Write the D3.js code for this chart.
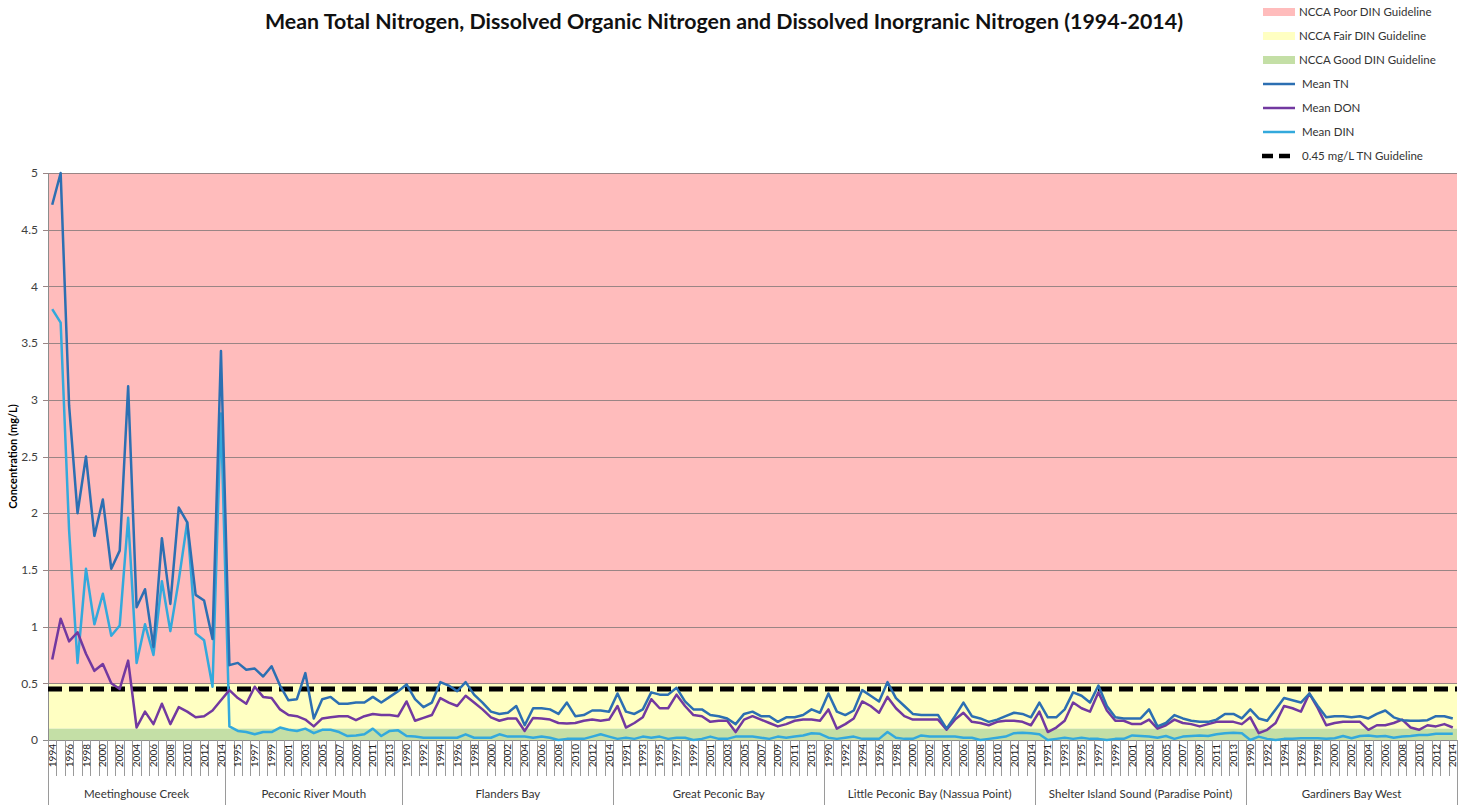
<!DOCTYPE html>
<html>
<head>
<meta charset="utf-8">
<script src="https://cdn.jsdelivr.net/npm/d3@7"></script>
<style>
  body { margin: 0; background: #fff; }
  text { font-family: Lato, "Liberation Sans", sans-serif; }
</style>
</head>
<body>
<div id="chart"></div>
<script>
// sites along the x axis and the years sampled at each one
var siteNames = ["Meetinghouse Creek", "Peconic River Mouth", "Flanders Bay", "Great Peconic Bay",
                 "Little Peconic Bay (Nassua Point)", "Shelter Island Sound (Paradise Point)", "Gardiners Bay West"];
var siteFirstYear = [1994, 1994, 1990, 1990, 1990, 1990, 1990];
var siteLastYear  = [2014, 2014, 2014, 2014, 2014, 2014, 2014];

var yTicks = [0, 0.5, 1, 1.5, 2, 2.5, 3, 3.5, 4, 4.5, 5];

// Mean TN (mg/L), one row per site
var tn = [
  4.72, 5.00, 2.95, 2.00, 2.50, 1.80, 2.12, 1.51, 1.67, 3.12, 1.17, 1.33, 0.82, 1.78, 1.20, 2.05, 1.92, 1.28, 1.23, 0.89, 3.43,
  0.66, 0.68, 0.62, 0.63, 0.56, 0.65, 0.48, 0.35, 0.36, 0.59, 0.19, 0.36, 0.38, 0.32, 0.32, 0.33, 0.33, 0.38, 0.33, 0.38, 0.43,
  0.49, 0.36, 0.29, 0.33, 0.51, 0.48, 0.43, 0.51, 0.40, 0.33, 0.25, 0.23, 0.24, 0.30, 0.13, 0.28, 0.28, 0.27, 0.23, 0.33, 0.21, 0.22, 0.26, 0.26, 0.25,
  0.41, 0.25, 0.23, 0.27, 0.42, 0.40, 0.40, 0.46, 0.34, 0.27, 0.27, 0.22, 0.21, 0.19, 0.14, 0.23, 0.25, 0.21, 0.21, 0.16, 0.20, 0.20, 0.22, 0.27, 0.24,
  0.41, 0.25, 0.22, 0.26, 0.44, 0.39, 0.34, 0.51, 0.37, 0.30, 0.23, 0.22, 0.22, 0.22, 0.10, 0.21, 0.33, 0.21, 0.19, 0.16, 0.18, 0.21, 0.24, 0.23, 0.20,
  0.33, 0.20, 0.20, 0.27, 0.42, 0.39, 0.33, 0.48, 0.30, 0.20, 0.19, 0.19, 0.19, 0.27, 0.12, 0.15, 0.22, 0.19, 0.17, 0.16, 0.16, 0.18, 0.23, 0.23, 0.19,
  0.27, 0.19, 0.17, 0.27, 0.37, 0.35, 0.33, 0.41, 0.30, 0.20, 0.21, 0.21, 0.20, 0.21, 0.19, 0.23, 0.26, 0.20, 0.175, 0.17, 0.17, 0.175, 0.21, 0.21, 0.19
];

// Mean DON (mg/L)
var don = [
  0.71, 1.07, 0.87, 0.95, 0.76, 0.61, 0.67, 0.50, 0.45, 0.70, 0.11, 0.25, 0.14, 0.32, 0.14, 0.29, 0.25, 0.20, 0.21, 0.26, 0.35,
  0.44, 0.37, 0.32, 0.47, 0.38, 0.37, 0.27, 0.22, 0.21, 0.18, 0.12, 0.19, 0.20, 0.21, 0.21, 0.175, 0.21, 0.23, 0.22, 0.22, 0.21,
  0.34, 0.17, 0.195, 0.22, 0.37, 0.33, 0.30, 0.39, 0.33, 0.27, 0.20, 0.17, 0.19, 0.19, 0.08, 0.195, 0.19, 0.18, 0.15, 0.145, 0.15, 0.17, 0.18, 0.17, 0.18,
  0.30, 0.11, 0.15, 0.20, 0.36, 0.28, 0.28, 0.40, 0.30, 0.22, 0.21, 0.16, 0.17, 0.17, 0.07, 0.18, 0.21, 0.18, 0.15, 0.12, 0.14, 0.17, 0.18, 0.18, 0.17,
  0.27, 0.10, 0.14, 0.19, 0.34, 0.30, 0.24, 0.38, 0.28, 0.21, 0.18, 0.18, 0.18, 0.18, 0.09, 0.18, 0.24, 0.16, 0.15, 0.13, 0.16, 0.17, 0.17, 0.16, 0.13,
  0.25, 0.07, 0.11, 0.17, 0.33, 0.28, 0.25, 0.42, 0.26, 0.17, 0.17, 0.14, 0.14, 0.18, 0.10, 0.13, 0.18, 0.15, 0.14, 0.12, 0.14, 0.16, 0.16, 0.16, 0.14,
  0.20, 0.06, 0.09, 0.15, 0.30, 0.28, 0.25, 0.41, 0.28, 0.13, 0.15, 0.16, 0.16, 0.16, 0.09, 0.13, 0.13, 0.15, 0.18, 0.11, 0.09, 0.13, 0.12, 0.14, 0.11
];

// Mean DIN (mg/L)
var din = [
  3.80, 3.68, 1.85, 0.68, 1.51, 1.02, 1.29, 0.92, 1.01, 1.96, 0.68, 1.02, 0.75, 1.40, 0.96, 1.41, 1.92, 0.94, 0.88, 0.47, 2.88,
  0.12, 0.08, 0.07, 0.05, 0.07, 0.07, 0.11, 0.09, 0.08, 0.10, 0.06, 0.09, 0.09, 0.07, 0.035, 0.04, 0.05, 0.10, 0.035, 0.08, 0.085,
  0.035, 0.03, 0.02, 0.02, 0.02, 0.02, 0.02, 0.05, 0.02, 0.02, 0.02, 0.05, 0.03, 0.03, 0.03, 0.02, 0.03, 0.02, 0.00, 0.01, 0.01, 0.01, 0.03, 0.05, 0.03,
  0.01, 0.02, 0.01, 0.03, 0.02, 0.03, 0.01, 0.02, 0.02, 0.00, 0.01, 0.03, 0.01, 0.01, 0.03, 0.03, 0.03, 0.02, 0.01, 0.03, 0.02, 0.03, 0.04, 0.06, 0.055,
  0.02, 0.01, 0.02, 0.03, 0.01, 0.01, 0.01, 0.07, 0.02, 0.01, 0.01, 0.04, 0.03, 0.03, 0.03, 0.03, 0.02, 0.02, 0.00, 0.01, 0.02, 0.03, 0.06, 0.065, 0.06,
  0.05, 0.00, 0.01, 0.02, 0.01, 0.02, 0.01, 0.01, 0.00, 0.01, 0.01, 0.04, 0.035, 0.03, 0.02, 0.035, 0.01, 0.03, 0.035, 0.04, 0.035, 0.05, 0.06, 0.065, 0.06,
  0.00, 0.03, 0.01, 0.00, 0.01, 0.01, 0.015, 0.015, 0.015, 0.01, 0.015, 0.035, 0.015, 0.035, 0.04, 0.03, 0.035, 0.02, 0.03, 0.035, 0.045, 0.045, 0.055, 0.055, 0.055
];

// NCCA DIN guideline bands and the TN guideline
var goodLimit = 0.1, fairLimit = 0.5, poorLimit = 5;
var tnGuideline = 0.45;

var colors = {poor: "#ffbcbc", fair: "#ffffc2", good: "#c4dfa6",
              tn: "#2c6fb2", don: "#7239a0", din: "#33a9dc"};

// build the flat category list (site, year)
var categories = [];
siteNames.forEach(function(s, k) {
  for (var yr = siteFirstYear[k]; yr <= siteLastYear[k]; yr++) categories.push({site: s, year: yr});
});

var W = 1465, H = 807;
var plotLeft = 48, plotRight = 1457, plotTop = 173, plotBottom = 740;

var svg = d3.select("#chart").append("svg")
  .attr("width", W).attr("height", H);

var x = d3.scaleBand()
  .domain(d3.range(categories.length))
  .range([plotLeft, plotRight])
  .padding(0);
var y = d3.scaleLinear().domain([0, 5]).range([plotBottom, plotTop]);
var cx = function(i) { return x(i) + x.bandwidth() / 2; };

// guideline bands
svg.append("rect").attr("x", plotLeft).attr("width", plotRight - plotLeft)
  .attr("y", y(poorLimit)).attr("height", y(fairLimit) - y(poorLimit)).attr("fill", colors.poor);
svg.append("rect").attr("x", plotLeft).attr("width", plotRight - plotLeft)
  .attr("y", y(fairLimit)).attr("height", y(goodLimit) - y(fairLimit)).attr("fill", colors.fair);
svg.append("rect").attr("x", plotLeft).attr("width", plotRight - plotLeft)
  .attr("y", y(goodLimit)).attr("height", y(0) - y(goodLimit)).attr("fill", colors.good);

// gridlines + y axis
svg.append("g").selectAll("line").data(yTicks.filter(function(d) { return d > 0; }))
  .enter().append("line")
  .attr("x1", plotLeft - 5).attr("x2", plotRight)
  .attr("y1", function(d) { return Math.round(y(d)) + 0.5; })
  .attr("y2", function(d) { return Math.round(y(d)) + 0.5; })
  .attr("stroke", "#9a8585").attr("stroke-width", 1);
svg.append("line").attr("x1", plotLeft - 5).attr("x2", plotRight)
  .attr("y1", y(0) + 0.5).attr("y2", y(0) + 0.5).attr("stroke", "#8c8c8c");
svg.append("line").attr("x1", plotLeft + 0.5).attr("x2", plotLeft + 0.5)
  .attr("y1", y(5)).attr("y2", y(0)).attr("stroke", "#8c8c8c");

svg.append("g").selectAll("text").data(yTicks).enter().append("text")
  .attr("x", 38).attr("y", function(d) { return y(d); }).attr("dy", "0.35em")
  .attr("text-anchor", "end").attr("font-size", 12).attr("fill", "#404040")
  .text(function(d) { return d; });

svg.append("text")
  .attr("transform", "translate(17," + ((plotTop + plotBottom) / 2) + ") rotate(-90)")
  .attr("text-anchor", "middle").attr("font-size", 11).attr("font-weight", "bold")
  .text("Concentration  (mg/L)");

// x axis: ticks between every category, longer lines between sites
var siteStart = [];
categories.forEach(function(c, i) { if (i === 0 || categories[i - 1].site !== c.site) siteStart.push(i); });

svg.append("g").selectAll("line").data(d3.range(categories.length + 1))
  .enter().append("line")
  .attr("x1", function(i) { return Math.round(plotLeft + i * x.bandwidth()) + 0.5; })
  .attr("x2", function(i) { return Math.round(plotLeft + i * x.bandwidth()) + 0.5; })
  .attr("y1", plotBottom)
  .attr("y2", function(i) { return (siteStart.indexOf(i) >= 0 || i === categories.length) ? 805 : 776; })
  .attr("stroke", "#9a9a9a").attr("stroke-width", 1);

svg.append("g").selectAll("text").data(categories.filter(function(c, i) { return i % 2 === 0; }))
  .enter().append("text")
  .attr("transform", function(c) {
    var i = categories.indexOf(c);
    return "translate(" + (cx(i) + 3.6) + "," + (plotBottom + 4) + ") rotate(-90)";
  })
  .attr("text-anchor", "end").attr("font-size", 10).attr("fill", "#222")
  .text(function(c) { return c.year; });

svg.append("g").selectAll("text").data(siteNames).enter().append("text")
  .attr("x", function(s, k) {
    var a = siteStart[k], b = (k + 1 < siteStart.length ? siteStart[k + 1] : categories.length);
    return plotLeft + (a + b) / 2 * x.bandwidth();
  })
  .attr("y", 798).attr("text-anchor", "middle").attr("font-size", 11.5).attr("fill", "#333")
  .text(function(s) { return s; });

// TN guideline
svg.append("line").attr("x1", plotLeft).attr("x2", plotRight)
  .attr("y1", y(tnGuideline)).attr("y2", y(tnGuideline))
  .attr("stroke", "#000").attr("stroke-width", 5).attr("stroke-dasharray", "14,7");

// series lines
var line = d3.line().x(function(d, i) { return cx(i); }).y(function(d) { return y(d); });
[[din, colors.din], [don, colors.don], [tn, colors.tn]].forEach(function(s) {
  svg.append("path").datum(s[0])
    .attr("fill", "none").attr("stroke", s[1]).attr("stroke-width", 2.5)
    .attr("stroke-linejoin", "round")
    .attr("d", line);
});

// title
svg.append("text").attr("x", 724).attr("y", 29).attr("text-anchor", "middle")
  .attr("font-size", 20).attr("font-weight", "bold").attr("fill", "#111")
  .attr("textLength", 918).attr("lengthAdjust", "spacingAndGlyphs")
  .text("Mean Total Nitrogen, Dissolved Organic Nitrogen and Dissolved Inorgranic Nitrogen (1994-2014)");

// legend
var legendLabels = ["NCCA Poor DIN Guideline", "NCCA Fair DIN Guideline", "NCCA Good DIN Guideline",
                    "Mean TN", "Mean DON", "Mean DIN", "0.45 mg/L TN Guideline"];
var legendKinds = ["poor", "fair", "good", "tn", "don", "din", "guide"];
var lg = svg.append("g");
legendLabels.forEach(function(lab, k) {
  var yy = 12 + k * 24;
  var kind = legendKinds[k];
  if (kind === "poor" || kind === "fair" || kind === "good") {
    lg.append("rect").attr("x", 1263).attr("y", yy - 4).attr("width", 32).attr("height", 8).attr("fill", colors[kind]);
  } else if (kind === "guide") {
    lg.append("line").attr("x1", 1262).attr("x2", 1295).attr("y1", yy).attr("y2", yy)
      .attr("stroke", "#000").attr("stroke-width", 4.5).attr("stroke-dasharray", "11,6");
  } else {
    lg.append("line").attr("x1", 1263).attr("x2", 1295).attr("y1", yy).attr("y2", yy)
      .attr("stroke", colors[kind]).attr("stroke-width", 2.5);
  }
  lg.append("text").attr("x", k < 3 ? 1299 : 1302).attr("y", yy).attr("dy", "0.35em")
    .attr("font-size", 11.5).attr("fill", "#333").text(lab);
});
</script>
</body>
</html>
